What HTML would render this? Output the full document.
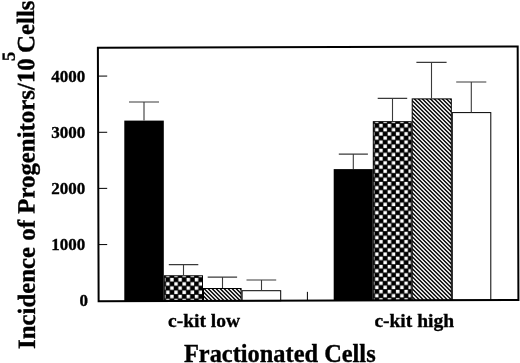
<!DOCTYPE html>
<html>
<head>
<meta charset="utf-8">
<style>
html,body{margin:0;padding:0;background:#fff;width:520px;height:363px;overflow:hidden;}
svg{display:block;will-change:transform;}
text{font-family:"Liberation Serif",serif;font-weight:bold;fill:#000;stroke:#000;stroke-width:0.35px;}
</style>
</head>
<body>
<svg width="520" height="363" viewBox="0 0 520 363">
<defs>
<pattern id="chk1" patternUnits="userSpaceOnUse" width="8.2" height="8.4" x="165.75" y="281.80"><rect width="8.2" height="8.4" fill="#000"/><rect x="0.30" y="0.35" width="3.5" height="3.5" fill="#fff"/><rect x="4.40" y="4.55" width="3.5" height="3.5" fill="#fff"/></pattern>
<pattern id="chk2" patternUnits="userSpaceOnUse" width="8.37" height="8.3" x="374.71" y="127.62"><rect width="8.37" height="8.3" fill="#000"/><rect x="0.34" y="0.33" width="3.5" height="3.5" fill="#fff"/><rect x="4.53" y="4.48" width="3.5" height="3.5" fill="#fff"/></pattern>
<pattern id="hat" patternUnits="userSpaceOnUse" width="4" height="4" x="3.0" y="0"><rect width="4" height="4" fill="#fff"/><path d="M-0.5,-1 L5.5,5 M-1,2.5 L2.5,6 M3.5,-1 L6,1.5" stroke="#000" stroke-width="1.414"/></pattern>
</defs>
<g font-size="17">
<text x="85.20" y="81.60" text-anchor="end">4000</text>
<text x="85.20" y="137.70" text-anchor="end">3000</text>
<text x="85.20" y="193.80" text-anchor="end">2000</text>
<text x="85.20" y="250.00" text-anchor="end">1000</text>
<text x="88.00" y="306.30" text-anchor="end">0</text>
</g>
<g transform="translate(35,349) rotate(-90.166)" font-size="24.85">
<text x="0" y="0">Incidence of Progenitors/10</text>
<text x="288" y="-19.5" font-size="18.5">5</text>
<text x="296.1" y="0">Cells</text>
</g>
<text x="204.00" y="326.60" font-size="19.5" text-anchor="middle">c-kit low</text>
<text x="414.20" y="326.60" font-size="19.5" text-anchor="middle">c-kit high</text>
<text x="279.80" y="361.60" font-size="24.4" text-anchor="middle">Fractionated Cells</text>
<rect x="124.30" y="120.60" width="39.50" height="180.53" fill="#000"/>
<rect x="164.30" y="275.80" width="38.20" height="25.21" fill="url(#chk1)" stroke="#000" stroke-width="1"/>
<rect x="203.50" y="288.50" width="37.60" height="12.40" fill="url(#hat)" stroke="#000" stroke-width="1"/>
<rect x="242.10" y="290.70" width="38.60" height="10.09" fill="#fff" stroke="#000" stroke-width="1"/>
<rect x="333.70" y="169.10" width="39.10" height="131.42" fill="#000"/>
<rect x="373.30" y="121.70" width="37.90" height="178.71" fill="url(#chk2)" stroke="#000" stroke-width="1"/>
<rect x="412.20" y="98.90" width="39.10" height="201.39" fill="url(#hat)" stroke="#000" stroke-width="1"/>
<rect x="452.30" y="112.60" width="38.50" height="187.58" fill="#fff" stroke="#000" stroke-width="1"/>
<g stroke="#3a3a3a" stroke-width="1.1" fill="none">
<path d="M144.00,120.60 V102.00 M129.00,102.00 H159.00"/>
<path d="M183.50,275.30 V264.60 M168.80,264.60 H198.30"/>
<path d="M222.50,288.00 V277.10 M207.70,277.10 H237.10"/>
<path d="M261.50,290.70 V280.00 M246.50,280.00 H276.20"/>
<path d="M353.30,169.10 V154.10 M338.80,154.10 H367.90"/>
<path d="M392.50,121.20 V98.40 M377.70,98.40 H407.20"/>
<path d="M431.50,98.40 V62.40 M416.40,62.40 H446.60"/>
<path d="M471.30,112.60 V82.00 M456.20,82.00 H486.30"/>
</g>
<path d="M97.88,47.76 L517.68,46.54 L518.42,300.04 L98.62,301.26 Z" fill="none" stroke="#000" stroke-width="2" stroke-linejoin="miter"/>
<g stroke="#000" stroke-width="1">
<path d="M97.97,76.10 L107.2,76.07"/>
<path d="M98.13,132.30 L107.2,132.27"/>
<path d="M98.29,188.40 L107.2,188.37"/>
<path d="M98.45,244.60 L107.2,244.57"/>
<path d="M307.4,300.65 V291.85"/>
</g>
</svg>
</body>
</html>
